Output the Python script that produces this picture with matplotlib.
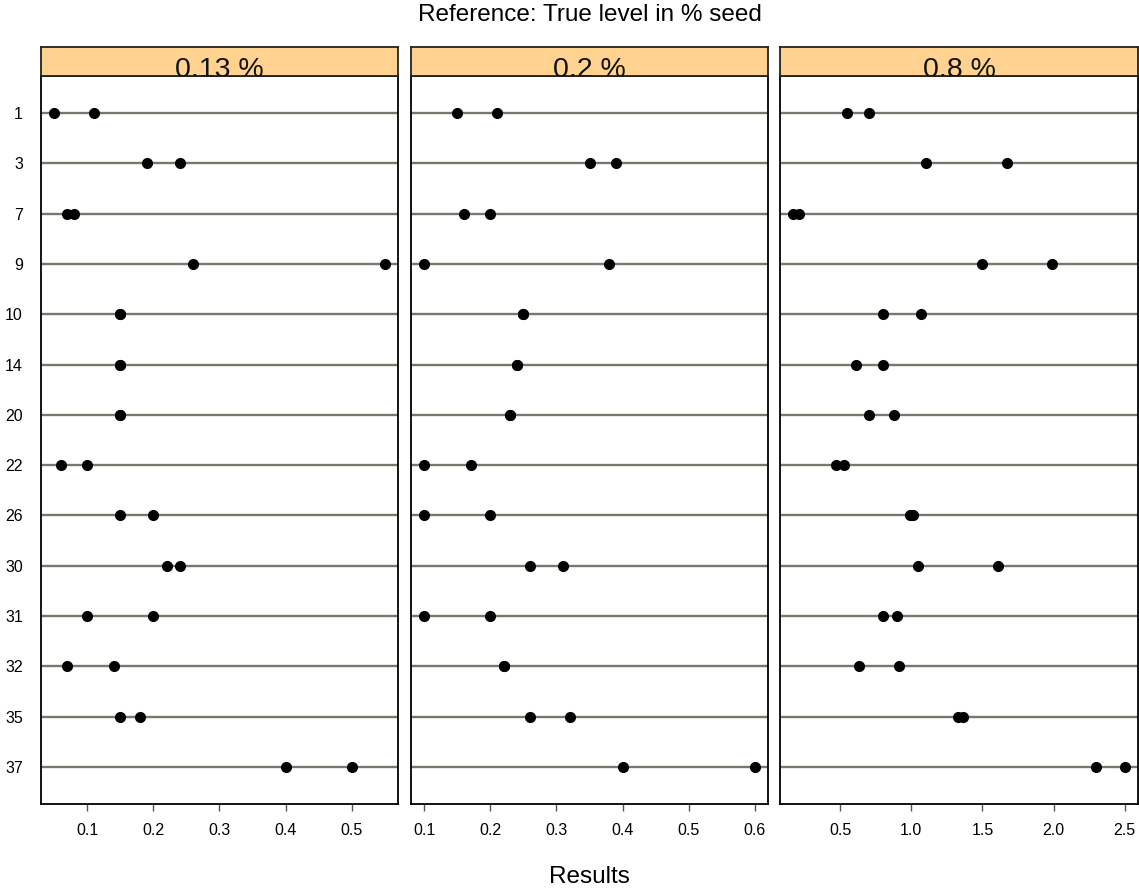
import matplotlib
matplotlib.use('Agg')
import matplotlib.pyplot as plt
import numpy as np

plt.rcParams['font.family'] = ['Liberation Sans', 'DejaVu Sans']

# Samples (top to bottom) and the two replicate results per reference level
samples = ['1', '3', '7', '9', '10', '14', '20', '22', '26', '30', '31', '32', '35', '37']
levels = ['0.13 %', '0.2 %', '0.8 %']

rep1_013 = [0.05, 0.19, 0.07, 0.26, 0.15, 0.15, 0.15, 0.06, 0.15, 0.22, 0.10, 0.07, 0.15, 0.40]
rep2_013 = [0.11, 0.24, 0.08, 0.55, 0.15, 0.15, 0.15, 0.10, 0.20, 0.24, 0.20, 0.14, 0.18, 0.50]
rep1_02 = [0.15, 0.35, 0.16, 0.10, 0.25, 0.24, 0.23, 0.10, 0.10, 0.26, 0.10, 0.22, 0.26, 0.40]
rep2_02 = [0.21, 0.39, 0.20, 0.38, 0.25, 0.24, 0.23, 0.17, 0.20, 0.31, 0.20, 0.22, 0.32, 0.60]
rep1_08 = [0.55, 1.10, 0.17, 1.50, 0.80, 0.61, 0.70, 0.47, 0.99, 1.05, 0.80, 0.63, 1.33, 2.30]
rep2_08 = [0.70, 1.67, 0.21, 1.99, 1.07, 0.80, 0.88, 0.53, 1.01, 1.61, 0.90, 0.91, 1.36, 2.50]

ticks_013 = [0.1, 0.2, 0.3, 0.4, 0.5]
ticks_02 = [0.1, 0.2, 0.3, 0.4, 0.5, 0.6]
ticks_08 = [0.5, 1.0, 1.5, 2.0, 2.5]

panels = [
    (levels[0], rep1_013, rep2_013, ticks_013),
    (levels[1], rep1_02, rep2_02, ticks_02),
    (levels[2], rep1_08, rep2_08, ticks_08),
]

W, H = 1139, 892
fig = plt.figure(figsize=(W / 100, H / 100), dpi=100)

# panel edges in pixels
lefts = [41, 411, 780]
rights = [398, 768, 1138]
top_px, bottom_px, strip_top = 76, 804, 47

line_col = '#77776c'
strip_col = '#ffd28f'
rows = np.arange(1, len(samples) + 1)

for i, (lab, r1, r2, ticks) in enumerate(panels):
    l, r = lefts[i], rights[i]
    ax = fig.add_axes([l / W, 1 - bottom_px / H, (r - l) / W, (bottom_px - top_px) / H])
    for y in rows:
        ax.axhline(y, color=line_col, lw=1.7, zorder=1)
    ax.plot(r1, rows, 'o', color='black', ms=7, zorder=3, clip_on=False)
    ax.plot(r2, rows, 'o', color='black', ms=7, zorder=3, clip_on=False)

    allv = r1 + r2
    lo, hi = min(allv), max(allv)
    pad = 0.04 * (hi - lo)
    ax.set_xlim(lo - pad, hi + pad)
    ax.set_ylim(14.74, 0.26)
    ax.set_xticks(ticks)
    ax.set_xticklabels(['%.1f' % t for t in ticks], fontsize=11.5)
    ax.tick_params(axis='x', direction='out', length=5, width=1, color='#555555', pad=9)
    if i == 0:
        ax.set_yticks(rows)
        ax.set_yticklabels(samples, fontsize=11.5)
        ax.tick_params(axis='y', length=0, pad=13)
    else:
        ax.set_yticks([])
    for s in ax.spines.values():
        s.set_linewidth(1.3)
        s.set_color('black')

    # strip on top of the panel
    sax = fig.add_axes([l / W, 1 - top_px / H, (r - l) / W, (top_px - strip_top) / H])
    sax.set_facecolor(strip_col)
    sax.set_xticks([])
    sax.set_yticks([])
    for s in sax.spines.values():
        s.set_linewidth(1.3)
        s.set_color('#222222')
    t = sax.text(0.5, -0.04, lab, ha='center', va='baseline', fontsize=20.5,
                 transform=sax.transAxes, color='#111111')
    t.set_clip_on(True)

cx = (lefts[0] + rights[2]) / 2 / W
fig.text(cx, 1 - 15 / H, 'Reference: True level in % seed', ha='center', va='center', fontsize=17.5)
fig.text(cx, 1 - 877 / H, 'Results', ha='center', va='center', fontsize=17.5)

fig.savefig('out.png', dpi=100)
